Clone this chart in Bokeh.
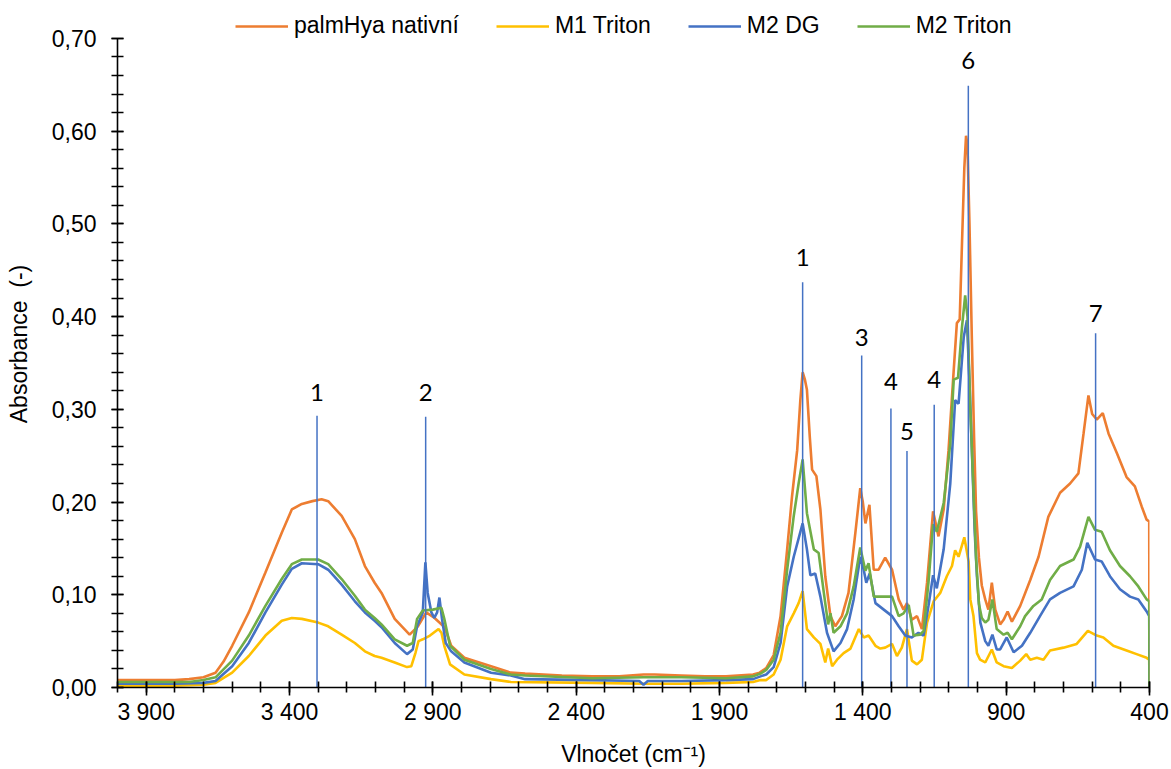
from bokeh.plotting import figure
from bokeh.models import Range1d, FixedTicker, CustomJSTickFormatter, Legend, LegendItem
from bokeh.embed import file_html
from bokeh.resources import INLINE
from bokeh.core.properties import value

# ---------------- data ----------------
series_names = ["palmHya nativní", "M1 Triton", "M2 DG", "M2 Triton"]
series_colors = ["#ED7D31", "#FFC000", "#4472C4", "#70AD47"]

wn_native = [4000, 3900, 3800, 3750, 3700, 3658, 3630, 3600, 3542, 3484, 3427, 3392, 3357, 3320, 3288,
             3265, 3218, 3172, 3137, 3103, 3079, 3033, 2981, 2952, 2923, 2894, 2859, 2836, 2790, 2697,
             2628, 2578, 2450, 2344, 2250, 2165, 2126, 2033, 1950, 1877, 1783, 1760, 1737, 1711, 1687,
             1664, 1647, 1629, 1618, 1610, 1602, 1595, 1585, 1577, 1562, 1548, 1531, 1513, 1496, 1473,
             1450, 1426, 1409, 1400, 1391, 1377, 1362, 1345, 1322, 1298, 1275, 1258, 1246, 1229, 1211,
             1194, 1176, 1155, 1136, 1118, 1101, 1083, 1072, 1062, 1054, 1046, 1040, 1035, 1028, 1020,
             1012, 1005, 995, 985, 973, 962, 950, 938, 921, 909, 895, 880, 851, 816, 787,
             753, 712, 677, 648, 630, 613, 600, 584, 563, 543, 514, 480, 451, 427, 410,
             401, 400]
abs_native = [0.008, 0.008, 0.008, 0.009, 0.011, 0.016, 0.028, 0.045, 0.081, 0.124, 0.167, 0.192, 0.198, 0.201, 0.203,
              0.201, 0.185, 0.160, 0.131, 0.113, 0.102, 0.074, 0.057, 0.066, 0.081, 0.075, 0.065, 0.045, 0.032, 0.023,
              0.016, 0.015, 0.013, 0.012, 0.012, 0.014, 0.014, 0.013, 0.012, 0.012, 0.014, 0.016, 0.021, 0.035, 0.077,
              0.149, 0.206, 0.256, 0.310, 0.340, 0.332, 0.321, 0.270, 0.235, 0.228, 0.192, 0.120, 0.077, 0.066, 0.077,
              0.102, 0.167, 0.215, 0.200, 0.177, 0.197, 0.127, 0.127, 0.140, 0.127, 0.095, 0.084, 0.091, 0.073, 0.077,
              0.063, 0.113, 0.190, 0.163, 0.192, 0.256, 0.342, 0.393, 0.397, 0.480, 0.560, 0.595, 0.585, 0.500, 0.380,
              0.270, 0.190, 0.140, 0.110, 0.095, 0.084, 0.113, 0.084, 0.068, 0.073, 0.082, 0.071, 0.088, 0.116, 0.141,
              0.184, 0.210, 0.220, 0.231, 0.274, 0.315, 0.295, 0.289, 0.296, 0.274, 0.253, 0.227, 0.217, 0.195, 0.181,
              0.179, 0.0]

wn_m1_triton = [4000, 3800, 3700, 3658, 3600, 3542, 3484, 3427, 3392, 3357, 3300, 3265, 3218, 3172, 3137,
                3103, 3079, 3033, 2990, 2975, 2960, 2950, 2935, 2910, 2880, 2870, 2860, 2840, 2790, 2697,
                2628, 2344, 2165, 2033, 1877, 1783, 1757, 1737, 1711, 1687, 1664, 1641, 1624, 1610, 1595,
                1571, 1548, 1531, 1521, 1507, 1490, 1467, 1443, 1414, 1397, 1380, 1356, 1339, 1322, 1298,
                1281, 1264, 1246, 1229, 1211, 1194, 1176, 1153, 1130, 1107, 1089, 1078, 1066, 1046, 1031,
                1025, 1014, 1002, 991, 973, 950, 933, 909, 880, 851, 830, 816, 793, 770, 747,
                700, 654, 615, 584, 561, 526, 480, 445, 410, 401, 400]
abs_m1_triton = [0.002, 0.002, 0.003, 0.005, 0.016, 0.034, 0.056, 0.072, 0.075, 0.074, 0.070, 0.066, 0.057, 0.048, 0.039,
                 0.034, 0.032, 0.027, 0.022, 0.023, 0.038, 0.050, 0.052, 0.056, 0.063, 0.059, 0.045, 0.025, 0.014, 0.009,
                 0.006, 0.005, 0.004, 0.004, 0.005, 0.006, 0.008, 0.008, 0.014, 0.030, 0.066, 0.080, 0.091, 0.104, 0.063,
                 0.054, 0.047, 0.027, 0.042, 0.023, 0.030, 0.037, 0.042, 0.063, 0.054, 0.056, 0.045, 0.042, 0.043, 0.047,
                 0.034, 0.043, 0.063, 0.029, 0.025, 0.030, 0.070, 0.093, 0.102, 0.120, 0.131, 0.148, 0.141, 0.162, 0.136,
                 0.095, 0.077, 0.037, 0.030, 0.027, 0.041, 0.027, 0.023, 0.021, 0.029, 0.036, 0.030, 0.032, 0.030, 0.040,
                 0.043, 0.047, 0.061, 0.056, 0.054, 0.045, 0.040, 0.036, 0.032, 0.030, 0.0]

wn_m2_dg = [4000, 3800, 3700, 3658, 3600, 3542, 3484, 3427, 3392, 3357, 3300, 3265, 3218, 3172, 3137,
            3103, 3079, 3033, 2990, 2970, 2955, 2935, 2926, 2918, 2905, 2895, 2885, 2877, 2868, 2855,
            2836, 2790, 2697, 2628, 2578, 2344, 2180, 2165, 2150, 2126, 2033, 1877, 1783, 1757, 1737,
            1711, 1687, 1664, 1641, 1610, 1595, 1583, 1566, 1548, 1525, 1502, 1478, 1455, 1432, 1409,
            1397, 1388, 1376, 1356, 1327, 1298, 1275, 1252, 1229, 1206, 1188, 1171, 1155, 1142, 1118,
            1095, 1078, 1066, 1048, 1037, 1028, 1020, 1010, 1002, 990, 973, 962, 948, 933, 921,
            898, 874, 845, 816, 782, 747, 712, 665, 636, 617, 590, 567, 538, 503, 468,
            439, 410, 401, 400]
abs_m2_dg = [0.004, 0.004, 0.005, 0.007, 0.023, 0.048, 0.081, 0.111, 0.128, 0.134, 0.133, 0.127, 0.111, 0.093, 0.081,
             0.072, 0.065, 0.048, 0.036, 0.041, 0.066, 0.081, 0.135, 0.102, 0.081, 0.075, 0.081, 0.097, 0.074, 0.048,
             0.039, 0.027, 0.016, 0.013, 0.009, 0.008, 0.007, 0.003, 0.007, 0.007, 0.007, 0.008, 0.009, 0.012, 0.014,
             0.022, 0.048, 0.109, 0.141, 0.177, 0.149, 0.121, 0.123, 0.098, 0.059, 0.039, 0.048, 0.063, 0.095, 0.141,
             0.127, 0.113, 0.123, 0.091, 0.084, 0.077, 0.066, 0.056, 0.054, 0.059, 0.056, 0.088, 0.121, 0.107, 0.149,
             0.220, 0.310, 0.306, 0.378, 0.396, 0.330, 0.260, 0.170, 0.120, 0.070, 0.050, 0.045, 0.057, 0.041, 0.041,
             0.054, 0.038, 0.045, 0.059, 0.077, 0.095, 0.102, 0.109, 0.127, 0.156, 0.138, 0.136, 0.120, 0.106, 0.098,
             0.095, 0.082, 0.077, 0.0]

wn_m2_triton = [4000, 3900, 3800, 3750, 3700, 3658, 3600, 3542, 3484, 3427, 3392, 3357, 3300, 3265, 3218,
                3172, 3137, 3103, 3079, 3033, 2990, 2970, 2955, 2935, 2900, 2870, 2860, 2840, 2790, 2697,
                2628, 2578, 2344, 2165, 2033, 1877, 1783, 1757, 1737, 1711, 1687, 1664, 1641, 1624, 1610,
                1595, 1571, 1554, 1536, 1521, 1513, 1502, 1478, 1455, 1432, 1409, 1391, 1380, 1362, 1327,
                1298, 1275, 1258, 1240, 1223, 1200, 1188, 1171, 1155, 1142, 1118, 1095, 1083, 1068, 1054,
                1043, 1035, 1025, 1015, 1005, 995, 985, 973, 962, 948, 933, 909, 895, 880, 851,
                834, 805, 776, 747, 712, 665, 642, 613, 590, 567, 538, 503, 468, 439, 410,
                401, 400]
abs_m2_triton = [0.006, 0.006, 0.006, 0.006, 0.008, 0.011, 0.029, 0.056, 0.088, 0.117, 0.133, 0.138, 0.138, 0.133, 0.117,
                 0.099, 0.084, 0.075, 0.068, 0.052, 0.045, 0.048, 0.074, 0.083, 0.084, 0.086, 0.074, 0.045, 0.030, 0.020,
                 0.014, 0.013, 0.010, 0.011, 0.011, 0.010, 0.012, 0.015, 0.019, 0.030, 0.059, 0.127, 0.185, 0.220, 0.246,
                 0.188, 0.149, 0.145, 0.102, 0.068, 0.080, 0.059, 0.066, 0.080, 0.109, 0.151, 0.126, 0.134, 0.098, 0.098,
                 0.098, 0.077, 0.080, 0.089, 0.056, 0.057, 0.061, 0.113, 0.176, 0.168, 0.199, 0.263, 0.332, 0.334, 0.389,
                 0.423, 0.400, 0.300, 0.220, 0.140, 0.090, 0.075, 0.070, 0.073, 0.095, 0.063, 0.057, 0.059, 0.052, 0.066,
                 0.077, 0.088, 0.095, 0.116, 0.131, 0.138, 0.152, 0.184, 0.170, 0.168, 0.148, 0.131, 0.120, 0.109, 0.095,
                 0.093, 0.0]

# peak markers (wavenumber, line height, label, label height)
peak_wn = [3304, 2925, 1610, 1404, 1302, 1246, 1151, 1032, 588]
peak_top = [0.293, 0.292, 0.437, 0.358, 0.301, 0.255, 0.305, 0.649, 0.382]
peak_labels = ["1", "2", "1", "3", "4", "5", "4", "6", "7"]
peak_label_y = [0.318, 0.318, 0.464, 0.378, 0.330, 0.276, 0.332, 0.676, 0.403]

x_major_ticks = [3900, 3400, 2900, 2400, 1900, 1400, 900, 400]
x_minor_ticks = [4000, 3900, 3800, 3700, 3600, 3500, 3400, 3300, 3200, 3100, 3000, 2900, 2800, 2700,
                 2600, 2500, 2400, 2300, 2200, 2100, 2000, 1900, 1800, 1700, 1600, 1500, 1400, 1300,
                 1200, 1100, 1000, 900, 800, 700, 600, 500, 400]
y_major_ticks = [0.0, 0.1, 0.2, 0.3, 0.4, 0.5, 0.6, 0.7]
y_minor_ticks = [0.0, 0.02, 0.04, 0.06, 0.08, 0.1, 0.12, 0.14, 0.16, 0.18, 0.2, 0.22, 0.24, 0.26, 0.28,
                 0.3, 0.32, 0.34, 0.36, 0.38, 0.4, 0.42, 0.44, 0.46, 0.48, 0.5, 0.52, 0.54, 0.56, 0.58,
                 0.6, 0.62, 0.64, 0.66, 0.68, 0.7]
y_axis_max = 0.70

series = [(wn_native, abs_native), (wn_m1_triton, abs_m1_triton),
          (wn_m2_dg, abs_m2_dg), (wn_m2_triton, abs_m2_triton)]
for xs, ys in series:
    assert len(xs) == len(ys), (len(xs), len(ys))

# ---------------- figure ----------------
FONT = "Liberation Sans"
W, H = 1171, 769
FRAME_BOTTOM = 81           # px below plot area
TOP_GAP = 38                # px between the 0.70 tick and the top of the page
frame_h = H - FRAME_BOTTOM
y_top = y_axis_max * frame_h / (frame_h - TOP_GAP)   # leave room for the legend inside the frame

p = figure(width=W, height=H, output_backend="svg", toolbar_location=None,
           x_range=Range1d(4000, 400), y_range=Range1d(0, y_top),
           min_border_left=117, min_border_right=22, min_border_top=0, min_border_bottom=FRAME_BOTTOM)
p.outline_line_color = None
p.xgrid.visible = False
p.ygrid.visible = False
p.background_fill_color = "white"
p.border_fill_color = "white"

p.xaxis.ticker = FixedTicker(ticks=x_major_ticks, minor_ticks=x_minor_ticks)
p.yaxis.ticker = FixedTicker(ticks=y_major_ticks, minor_ticks=y_minor_ticks)
p.yaxis.bounds = (0, y_axis_max)
p.xaxis.formatter = CustomJSTickFormatter(code="""
const v = Math.round(tick);
if (v >= 1000) { return Math.floor(v/1000) + '\u00a0' + String(v % 1000).padStart(3, '0'); }
return String(v);
""")
p.yaxis.formatter = CustomJSTickFormatter(code="return tick.toFixed(2).replace('.', ',');")

for ax in (p.xaxis[0], p.yaxis[0]):
    ax.axis_line_color = "black"
    ax.axis_line_width = 1.6
    ax.major_tick_line_color = "black"
    ax.major_tick_line_width = 1.6
    ax.minor_tick_line_color = "black"
    ax.minor_tick_line_width = 1.6
    ax.major_label_text_font = FONT
    ax.major_label_text_font_size = "23px"
    ax.major_label_text_color = "black"
    ax.axis_label_text_font = FONT
    ax.axis_label_text_font_size = "23px"
    ax.axis_label_text_font_style = "normal"
    ax.axis_label_text_color = "black"

p.xaxis.major_tick_in = 6
p.xaxis.major_tick_out = 8
p.xaxis.minor_tick_in = 6
p.xaxis.minor_tick_out = 5
p.xaxis.major_label_standoff = 3
p.xaxis.axis_label = "Vlnočet (cm\u207b\u00b9)"
p.xaxis.axis_label_standoff = 13

p.yaxis.major_tick_in = 6
p.yaxis.major_tick_out = 6
p.yaxis.minor_tick_in = 6
p.yaxis.minor_tick_out = 6
p.yaxis.major_label_standoff = 15
p.yaxis.axis_label = "Absorbance\u00a0 (-)"
p.yaxis.axis_label_standoff = 17

renderers = []
for (xs, ys), c in zip(series, series_colors):
    r = p.line(xs, ys, line_color=c, line_width=2.6)
    renderers.append(r)

# peak marker lines and labels
p.segment(x0=peak_wn, y0=[0] * len(peak_wn), x1=peak_wn, y1=peak_top,
          line_color="#4472C4", line_width=1.5)
p.text(x=peak_wn, y=peak_label_y, text=peak_labels, text_align="center", text_baseline="middle",
       text_font=value("Lato"), text_font_size="24px", text_color="black")

# legend in the top strip of the plot area
legend = Legend(items=[LegendItem(label=n, renderers=[r]) for n, r in zip(series_names, renderers)],
                location=(118, frame_h - 40), orientation="horizontal", padding=0, margin=0, spacing=37,
                glyph_width=53, glyph_height=26, label_height=26, label_standoff=6,
                label_text_font=FONT, label_text_font_size="23px", label_text_color="black",
                background_fill_alpha=0, border_line_alpha=0)
p.add_layout(legend)

open("out.html", "w").write(file_html(p, INLINE))
